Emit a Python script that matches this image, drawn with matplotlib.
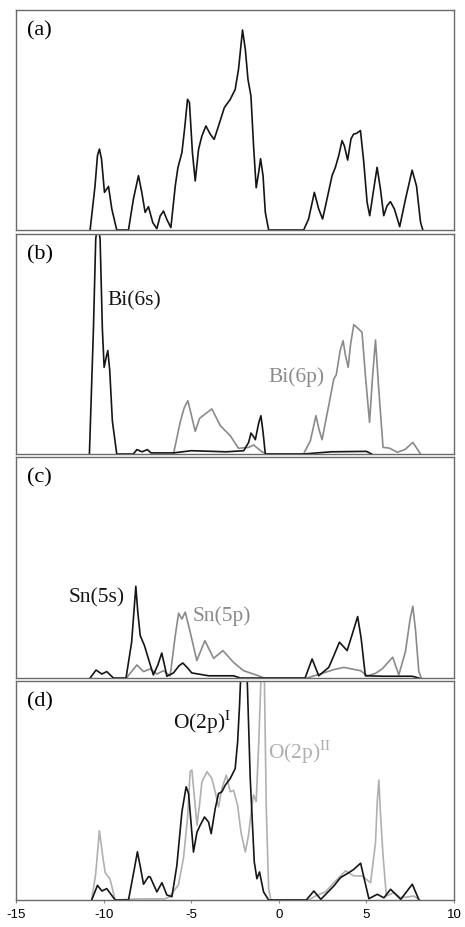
import numpy as np
import matplotlib.pyplot as plt

# la fuente de mathtext tiene que fijarse antes de crear los textos
plt.rcParams['mathtext.fontset'] = 'stix'

# energias (eV) y densidad de estados (escala 0-100 por panel)

# (a) DOS total
a_x = [-10.77, -10.49, -10.35, -10.24, -10.12, -9.95, -9.72, -9.53, -9.25, -8.58, -8.3, -8.01, -7.82, -7.63,
       -7.44, -7.19, -6.96, -6.77, -6.58, -6.39, -6.16, -5.91, -5.76, -5.53, -5.38, -5.21, -5.1, -4.93, -4.77,
       -4.58, -4.39, -4.16, -3.91, -3.69, -3.44, -3.11, -2.77, -2.49, -2.3, -2.07, -1.91, -1.76, -1.59, -1.44,
       -1.29, -1.15, -1.04, -0.9, -0.77, -0.58,
       1.42, 1.7, 2.03, 2.28, 2.5, 2.75, 3.04, 3.23, 3.42, 3.61, 3.74, 3.93, 4.12, 4.27, 4.43, 4.66, 4.85,
       5.04, 5.19, 5.42, 5.61, 5.8, 5.99, 6.18, 6.37, 6.6, 6.9, 7.23, 7.61, 7.86, 8.09, 8.22]
a_y = [0, 20, 33.8, 36.8, 32.3, 17.1, 19.8, 9.5, 0, 0, 14, 24.7, 17.1, 8,
       10.6, 3.3, 0.6, 6.4, 8.6, 4.8, 1.1, 20, 28.3, 35.2, 45.8, 59.4, 57.9, 35.2, 22.3,
       36.7, 42.7, 47.3, 43.5, 41.2, 47.3, 55.6, 59.4, 63.9, 73, 90.9, 82.1, 68.5, 60.9, 38.2,
       19.2, 26.1, 32.4, 24.7, 8, 0,
       0, 5, 17.1, 9.5, 5, 14, 24.7, 28.5, 33.8, 40.6, 38.3, 31.8, 41.4, 43.6, 43.9, 45.2, 30.8,
       12.6, 6.5, 18.7, 28.5, 18.7, 6.5, 11, 12.9, 9.5, 1.5, 14, 27.2, 20, 3.5, 0]

# (b) Bi(6s) y Bi(6p)
bi6s_x = [-10.81, -10.58, -10.45, -10.33, -10.2, -10.07, -9.97, -9.85, -9.76, -9.65, -9.5, -9.25, -8.3, -8.1,
          -7.8, -7.5, -7.3, -6.0, -5.0, -3.0, -2.0, -1.72, -1.59, -1.45, -1.34, -1.15, -1.02, -0.9, -0.77,
          1.4, 3.0, 5.0, 5.3]
bi6s_y = [0, 56.8, 97.7, 105, 97.7, 56.8, 39.4, 44, 47, 38, 15, 0, 0, 2,
          1, 2, 0.5, 0.5, 1.5, 1, 1.5, 5.3, 9.5, 8, 6.5, 14, 17.4, 10, 0,
          0, 1, 1.2, 0]
bi6p_x = [-6.01, -5.8, -5.63, -5.4, -5.19, -5.0, -4.77, -4.52, -4.2, -3.82, -3.6, -3.34, -2.77, -2.3, -1.72,
          -1.44, -0.96, -0.7,
          1.41, 1.8, 2.12, 2.3, 2.47, 2.94, 3.14, 3.28, 3.5, 3.67, 3.8, 3.96, 4.1, 4.28, 4.56, 4.75, 4.95,
          5.18, 5.35, 5.52, 5.7, 5.95, 6.3, 6.77, 7.2, 7.65, 8.09]
bi6p_y = [0, 8, 14.4, 21, 24.2, 18, 10.3, 16.2, 18.2, 20.5, 17, 12.9, 8.3, 2.6, 3,
          4.1, 1, 0,
          0, 6, 17.4, 11, 6.5, 25.8, 34.1, 36, 47, 51.5, 45, 39.4, 50, 58.8, 56.8, 55.3, 35,
          14.4, 35, 51.8, 30, 3, 2.7, 0.8, 2, 5.3, 0]

# (c) Sn(5s) y Sn(5p)
sn5s_x = [-10.77, -10.43, -10.1, -9.82, -9.44, -8.72, -8.4, -8.25, -8.16, -8.05, -7.91, -7.67, -7.38, -7.16,
          -6.9, -6.68, -6.5, -6.39, -6.01, -5.7, -5.48, -5.2, -4.97, -4.0, -2.59, -2.2,
          1.5, 1.9, 2.28, 2.85, 3.14, 3.46, 3.9, 4.2, 4.5, 4.7, 4.94, 6.0, 7.6, 8.0]
sn5s_y = [0, 3.6, 1.8, 2.9, 0, 0, 16.2, 32, 41.5, 30, 19.2, 14.7, 7.1, 1.4,
          6, 11.3, 5, 0.8, 2.3, 5.5, 6.8, 4.5, 2.3, 1, 1, 0,
          0, 8.6, 1, 4.8, 10.1, 16.2, 12.4, 20, 27.8, 18, 1, 0.8, 0.8, 0]
sn5p_x = [-8.7, -8.1, -7.72, -7.34, -6.96, -6.58, -6.2, -5.91, -5.72, -5.53, -5.34, -5.1, -4.68, -4.22, -3.72,
          -3.19, -2.59, -2.01, -1.15, -0.85,
          1.6, 2.37, 3.14, 3.71, 4.67, 5.05, 5.52, 5.9, 6.5, 6.85, 7.23, 7.5, 7.65, 7.8, 7.99, 8.13]
sn5p_y = [0, 5.9, 2.9, 4.1, 1.8, 3.3, 1, 19.2, 29.3, 26.7, 29.8, 22.2, 7.9, 16.9, 8.9,
          12.4, 7.1, 3.3, 1, 0,
          0, 1.8, 3.8, 4.8, 3.3, 1, 2.1, 4.1, 9.4, 1.4, 12, 27, 32.5, 22, 3, 0]

# (d) O(2p)^I y O(2p)^II
o1_x = [-10.68, -10.35, -10.1, -9.82, -9.34, -8.58, -8.25, -8.07, -7.9, -7.72, -7.44, -7.34, -6.96, -6.67,
        -6.39, -6.1, -5.82, -5.53, -5.29, -5.15, -4.87, -4.67, -4.49, -4.24, -4.01, -3.86, -3.63, -3.44, -3.25,
        -3.06, -2.77, -2.49, -2.35, -2.24, -2.16, -1.82, -1.63, -1.4, -1.25, -1.1, -0.87, -0.58,
        1.57, 2.0, 2.4, 3.14, 3.52, 4.0, 4.28, 4.67, 5.14, 5.62, 6.0, 6.38, 6.96, 7.62, 8.0]
o1_y = [0, 6.7, 4.1, 5.2, 0, 0, 14, 22, 15, 7.2, 10.7, 10.5, 3.7, 7.9,
        2.3, 1.5, 15.7, 40.2, 51.7, 48.6, 21.9, 31, 34.1, 37.9, 35.6, 30.3, 41.7, 48.6, 49.4,
        52.4, 55.5, 60, 72.2, 89, 105, 105, 55.5, 17.4, 9.7, 12.8, 3.7, 0,
        0, 4.1, 0.3, 6.4, 10.2, 12.5, 14, 16.8, 0.6, 2.6, 1, 4.9, 0.3, 7.2, 0]
o2_x = [-10.68, -10.45, -10.24, -10.05, -9.91, -9.63, -9.34, -8.0, -6.5, -6.24, -5.73, -5.44, -5.21, -5.06,
        -4.96, -4.83, -4.67, -4.53, -4.39, -4.1, -3.82, -3.63, -3.44, -3.25, -3.0, -2.77, -2.58, -2.35, -2.16,
        -1.91, -1.73, -1.53, -1.44, -1.29, -1.15, -1.0, -0.83, -0.71, -0.58, -0.45,
        1.7, 2.09, 2.66, 3.14, 3.81, 4.28, 4.75, 5.24, 5.52, 5.62, 5.71, 5.8, 5.95, 6.14, 6.56, 6.96, 7.71, 8.05]
o2_y = [0, 12, 31.6, 20, 12.5, 9.5, 0, 0.5, 0.5, 1.5, 6.9, 19.1, 37.4, 58.6,
        59.4, 48, 34.1, 43.2, 53.9, 58.6, 55.5, 49.4, 42.5, 50.9, 57, 49.4, 50.1, 43.2, 31,
        21.9, 29.5, 43.2, 48, 45, 70.9, 105, 105, 40.2, 5.3, 0,
        0, 1.8, 3.7, 7.9, 13.3, 11, 11, 7.9, 26.3, 45, 54.8, 40, 20.2, 1.8, 3.4, 1, 1.8, 0]

xticks = [-15, -10, -5, 0, 5, 10]

negro = '#151515'
gris_b = '#8a8a8a'
gris_d = '#b0b0b0'
serif = ['Liberation Serif', 'DejaVu Serif']

fig = plt.figure(figsize=(4.65, 9.28), dpi=100)

# posiciones de los cuatro paneles en pixeles (borde inferior, alto)
izq, ancho = 16 / 465, 438 / 465
paneles = [(231, 220), (455, 220), (679, 221), (901, 219)]
axs = []
for fondo, alto in paneles:
    ax = fig.add_axes([izq, (928 - fondo) / 928, ancho, alto / 928])
    ax.set_xlim(-15, 10)
    ax.set_ylim(0, 100)
    ax.set_yticks([])
    for s in ax.spines.values():
        s.set_color('#6a6a6a')
        s.set_linewidth(1.0)
    axs.append(ax)

lw = 1.2
axs[0].plot(a_x, a_y, color=negro, lw=lw)

axs[1].plot(bi6p_x, bi6p_y, color=gris_b, lw=lw)
axs[1].plot(bi6s_x, bi6s_y, color=negro, lw=lw)
axs[1].text(-9.8, 70, 'Bi(6s)', fontsize=15.5, family=serif, color=negro, va='center')
axs[1].text(-0.6, 35.5, 'Bi(6p)', fontsize=15.5, family=serif, color=gris_b, va='center')

axs[2].plot(sn5p_x, sn5p_y, color=gris_b, lw=lw)
axs[2].plot(sn5s_x, sn5s_y, color=negro, lw=lw)
axs[2].text(-11.97, 36.8, 'Sn(5s)', fontsize=15.5, family=serif, color=negro, va='center')
axs[2].text(-4.94, 28.6, 'Sn(5p)', fontsize=15.5, family=serif, color=gris_b, va='center')

axs[3].plot(o2_x, o2_y, color=gris_d, lw=lw)
axs[3].plot(o1_x, o1_y, color=negro, lw=lw)
axs[3].text(-6.03, 81.6, r'O(2p)$^{\mathrm{I}}$', fontsize=15.5, family=serif, color=negro, va='center')
axs[3].text(-0.6, 68, r'O(2p)$^{\mathrm{II}}$', fontsize=15.5, family=serif, color=gris_d, va='center')

for ax, letra in zip(axs, ['(a)', '(b)', '(c)', '(d)']):
    ax.text(0.025, 0.91, letra, transform=ax.transAxes, fontsize=16, family=serif, va='center')

for ax in axs[:3]:
    ax.set_xticks([])
axs[3].set_xticks(xticks)
axs[3].set_xticklabels([str(t) for t in xticks], fontsize=9.5, family='Liberation Sans')
axs[3].tick_params(axis='x', length=2, color='#888888', pad=4)

fig.savefig('out.png', dpi=100)
